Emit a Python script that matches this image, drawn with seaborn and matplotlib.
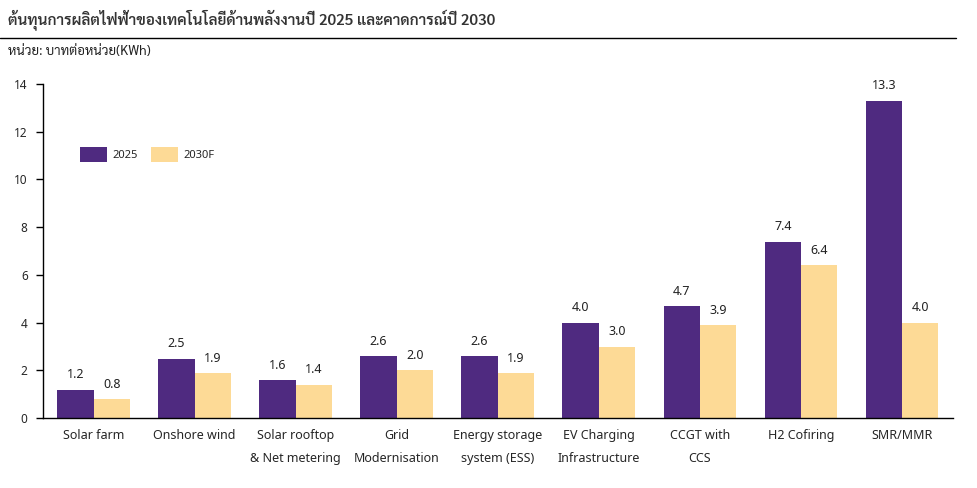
import pandas as pd
import numpy as np
import matplotlib
matplotlib.use("Agg")
import matplotlib.pyplot as plt
import seaborn as sns
from matplotlib.lines import Line2D

categories = ["Solar farm", "Onshore wind", "Solar rooftop\n& Net metering", "Grid\nModernisation",
              "Energy storage\nsystem (ESS)", "EV Charging\nInfrastructure", "CCGT with\nCCS",
              "H2 Cofiring", "SMR/MMR"]
cost_2025 = [1.2, 2.5, 1.6, 2.6, 2.6, 4.0, 4.7, 7.4, 13.3]
cost_2030 = [0.8, 1.9, 1.4, 2.0, 1.9, 3.0, 3.9, 6.4, 4.0]
series = ["2025", "2030F"]

df = pd.DataFrame({
    "tech": categories * 2,
    "cost": cost_2025 + cost_2030,
    "year": [series[0]] * len(categories) + [series[1]] * len(categories),
})

sns.set_theme(style="white")
plt.rcParams["font.family"] = ["Noto Sans", "DejaVu Sans"]
thai_font = ["Sarabun", "Noto Sans Thai Looped", "DejaVu Sans"]

fig = plt.figure(figsize=(9.77, 4.88), dpi=100)
ax = fig.add_axes([0.044, 0.143, 0.931, 0.685])

sns.barplot(data=df, x="tech", y="cost", hue="year", palette=["#4F2A80", "#FDDA96"],
            width=0.72, gap=0, saturation=1, linewidth=0, ax=ax)

for c in ax.containers:
    ax.bar_label(c, fmt="%.1f", padding=6, fontsize=9, color="#222222")

ax.set_ylim(0, 14)
ax.set_yticks(range(0, 15, 2))
ax.set_xlabel("")
ax.set_ylabel("")
ax.tick_params(axis="y", length=5, width=1, color="black", labelsize=8.5, pad=6, left=True)
ax.tick_params(axis="x", length=0, labelsize=9, pad=8)
for lbl in ax.get_xticklabels():
    lbl.set_linespacing(1.95)
for s in ["top", "right"]:
    ax.spines[s].set_visible(False)
for s in ["left", "bottom"]:
    ax.spines[s].set_color("black")
    ax.spines[s].set_linewidth(1)

ax.legend(loc="upper left", bbox_to_anchor=(0.03, 0.84), ncol=2, frameon=False, fontsize=8,
          handlelength=2.4, handleheight=1.6, columnspacing=1.2, handletextpad=0.5)

fig.text(0.008, 0.957, "ต้นทุนการผลิตไฟฟ้าของเทคโนโลยีด้านพลังงานปี 2025 และคาดการณ์ปี 2030",
         fontsize=11, fontweight="semibold", color="#333333", va="center", family=thai_font)
fig.add_artist(Line2D([0, 0.978], [0.922, 0.922], color="black", lw=1))
fig.text(0.008, 0.895, "หน่วย: บาทต่อหน่วย(KWh)", fontsize=9.5, color="#222222", va="center",
         family=thai_font)

fig.savefig("out.png", dpi=100)
